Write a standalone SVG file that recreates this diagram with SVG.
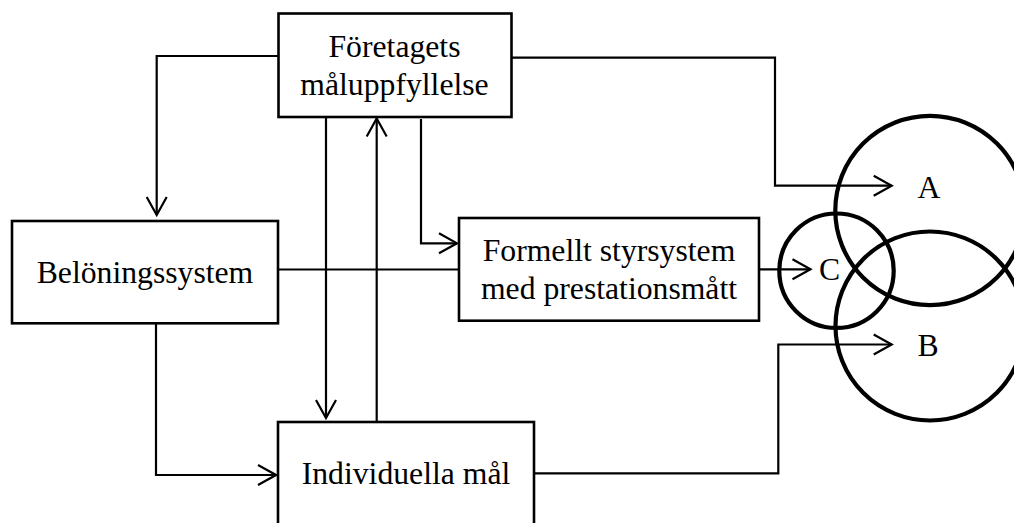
<svg xmlns="http://www.w3.org/2000/svg" width="1014" height="523" viewBox="0 0 1014 523">
<defs>
<style>
.box{fill:#fff;stroke:#000;stroke-width:2.6}
.t{font-family:"Liberation Serif","Times New Roman",serif;font-size:31.7px;fill:#000;text-anchor:middle}
.c{fill:none;stroke:#000;stroke-width:2.2}
.ah{fill:none;stroke:#000;stroke-width:2.2}
.circ{fill:none;stroke:#000;stroke-width:4.2}
</style>
<marker id="arr" viewBox="-20 -12 22 24" markerWidth="22" markerHeight="24" refX="0" refY="0" orient="auto" markerUnits="userSpaceOnUse">
<path d="M-18,-10 L0,0 L-18,10" fill="none" stroke="#000" stroke-width="2.2"/>
</marker>
</defs>
<rect width="1014" height="523" fill="#fff"/>
<g id="circles">
<circle class="circ" cx="930" cy="210.5" r="94.7"/>
<circle class="circ" cx="930" cy="326" r="94.5"/>
<circle class="circ" cx="836.5" cy="270.7" r="57.2"/>
</g>
<g id="connectors">
<polyline class="c" points="278,56 156.7,56 156.7,215" marker-end="url(#arr)"/>
<polyline class="c" points="156,323 156,475 276,475" marker-end="url(#arr)"/>
<line class="c" x1="326" y1="117" x2="326" y2="418" marker-end="url(#arr)"/>
<line class="c" x1="376.7" y1="422" x2="376.7" y2="118.5" marker-end="url(#arr)"/>
<polyline class="c" points="421,119 421,243.3 457,243.3" marker-end="url(#arr)"/>
<line class="c" x1="278" y1="269.5" x2="459" y2="269.5"/>
<polyline class="c" points="511,57.7 775,57.7 775,185.7 891.7,185.7" marker-end="url(#arr)"/>
<line class="c" x1="759" y1="269.3" x2="810.5" y2="269.3" marker-end="url(#arr)"/>
<polyline class="c" points="534,473.3 778.3,473.3 778.3,344.5 891.7,344.5" marker-end="url(#arr)"/>
</g>
<g id="node-foretagets">
<rect class="box" x="278.5" y="13.5" width="233" height="103.5"/>
<text class="t" x="394.5" y="57">Företagets</text>
<text class="t" x="394.5" y="95">måluppfyllelse</text>
</g>
<g id="node-beloning">
<rect class="box" x="12" y="221" width="266" height="102.3"/>
<text class="t" x="145" y="282.7">Belöningssystem</text>
</g>
<g id="node-formellt">
<rect class="box" x="459" y="218" width="300" height="102.7"/>
<text class="t" x="609" y="261">Formellt styrsystem</text>
<text class="t" x="609" y="299.3">med prestationsmått</text>
</g>
<g id="node-individuella">
<rect class="box" x="278" y="422" width="256" height="110"/>
<text class="t" x="406" y="484.3">Individuella mål</text>
</g>
<g id="labels">
<text class="t" x="929" y="198.3">A</text>
<text class="t" x="829.5" y="280">C</text>
<text class="t" x="928" y="355.7">B</text>
</g>
</svg>
